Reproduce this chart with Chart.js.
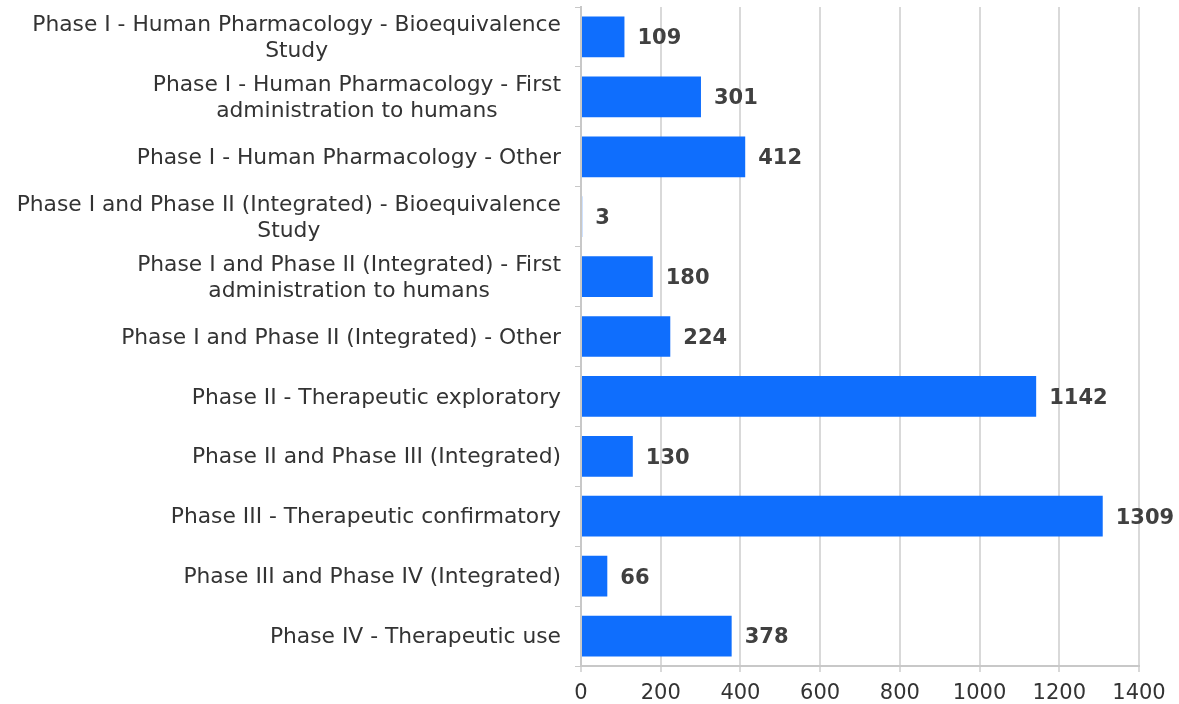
<!DOCTYPE html>
<html>
<head>
<meta charset="utf-8">
<script src="https://cdn.jsdelivr.net/npm/chart.js@4/dist/chart.umd.min.js"></script>
<style>
  html, body { margin: 0; padding: 0; background: #fff; }
  #wrap { width: 1179px; height: 704px; position: relative; }
</style>
</head>
<body>
<div id="wrap"><canvas id="chart"></canvas></div>
<script>
// Categories (multi-line where the label wraps)
const categories = [
    ['Phase I - Human Pharmacology - Bioequivalence', 'Study'],
    ['Phase I - Human Pharmacology - First', 'administration to humans'],
    ['Phase I - Human Pharmacology - Other'],
    ['Phase I and Phase II (Integrated) - Bioequivalence', 'Study'],
    ['Phase I and Phase II (Integrated) - First', 'administration to humans'],
    ['Phase I and Phase II (Integrated) - Other'],
    ['Phase II - Therapeutic exploratory'],
    ['Phase II and Phase III (Integrated)'],
    ['Phase III - Therapeutic confirmatory'],
    ['Phase III and Phase IV (Integrated)'],
    ['Phase IV - Therapeutic use']
];
const trialCounts = [109, 301, 412, 3, 180, 224, 1142, 130, 1309, 66, 378];
const xTicks = [0, 200, 400, 600, 800, 1000, 1200, 1400];

const FONT = '"DejaVu Sans", Verdana, sans-serif';

// Category labels: block right-aligned, lines centered inside the block
const labelPlugin = {
    id: 'centeredLabels',
    afterDraw(chart) {
        const ctx = chart.ctx;
        const yScale = chart.scales.y;
        const rightEdge = chart.chartArea.left - 20;
        const lineH = 26;
        ctx.save();
        ctx.font = '21.8px ' + FONT;
        ctx.fillStyle = '#333333';
        ctx.textBaseline = 'middle';
        ctx.textAlign = 'center';
        categories.forEach((lines, i) => {
            const cy = yScale.getPixelForValue(i) + 1.5;
            const blockW = Math.max(...lines.map(l => ctx.measureText(l).width));
            const center = rightEdge - blockW / 2;
            const top = cy - (lines.length - 1) * lineH / 2;
            lines.forEach((l, j) => ctx.fillText(l, center, top + j * lineH));
        });
        ctx.restore();
    }
};

// Value labels at the end of each bar
const valuePlugin = {
    id: 'valueLabels',
    afterDatasetsDraw(chart) {
        const ctx = chart.ctx;
        const meta = chart.getDatasetMeta(0);
        ctx.save();
        ctx.font = 'bold 21px ' + FONT;
        ctx.fillStyle = '#404040';
        ctx.textAlign = 'left';
        ctx.textBaseline = 'middle';
        meta.data.forEach((bar, i) => {
            ctx.fillText(String(trialCounts[i]), bar.x + 13, bar.y + 2);
        });
        ctx.restore();
    }
};

new Chart(document.getElementById('chart'), {
    type: 'bar',
    data: {
        labels: categories.map(c => c.join(' ')),
        datasets: [{
            data: trialCounts,
            backgroundColor: '#0f6efd',
            borderWidth: 0,
            barPercentage: 0.68,
            categoryPercentage: 1
        }]
    },
    options: {
        indexAxis: 'y',
        responsive: true,
        maintainAspectRatio: false,
        animation: false,
        layout: { padding: { top: 7, right: 40, bottom: 0, left: 0 } },
        plugins: {
            legend: { display: false },
            tooltip: { enabled: false }
        },
        scales: {
            x: {
                min: 0,
                max: 1400,
                afterBuildTicks(scale) {
                    scale.ticks = xTicks.map(v => ({ value: v }));
                },
                afterFit(scale) { scale.height = 38; },
                grid: {
                    color: '#d9d9d9',
                    lineWidth: 2,
                    tickLength: 6
                },
                border: { color: '#c8c8c8', width: 2 },
                ticks: {
                    color: '#333333',
                    font: { family: FONT, size: 21 },
                    padding: 9,
                    maxRotation: 0,
                    callback: v => String(v)
                }
            },
            y: {
                afterFit(scale) { scale.width = 581; },
                grid: {
                    drawOnChartArea: false,
                    color: '#c8c8c8',
                    tickLength: 6
                },
                border: { color: '#c8c8c8', width: 2 },
                ticks: { display: false }
            }
        }
    },
    plugins: [labelPlugin, valuePlugin]
});
</script>
</body>
</html>
